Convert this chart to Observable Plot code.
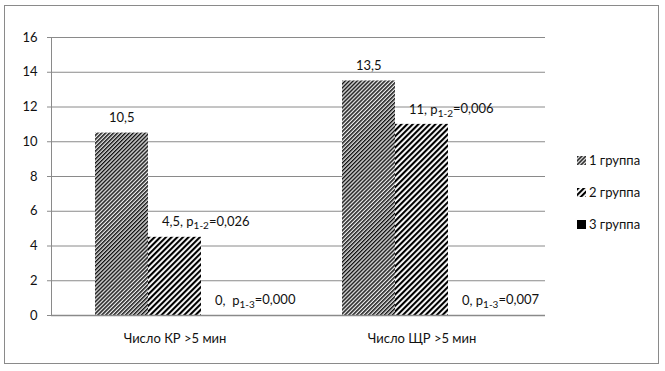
<!DOCTYPE html>
<html>
<head>
<meta charset="utf-8">
<script src="https://cdn.jsdelivr.net/npm/d3@7"></script>
<script src="https://cdn.jsdelivr.net/npm/@observablehq/plot@0.6"></script>
<style>
  html, body { margin: 0; padding: 0; background: #fff; }
  #wrap { position: relative; width: 665px; height: 371px; font-family: Lato, "Open Sans", sans-serif; }
  #border { position: absolute; left: 4px; top: 5px; width: 655px; height: 359px; border: 1px solid #8a8a8a; box-sizing: border-box; pointer-events: none; }
  #legend { position: absolute; left: 577px; top: 151px; font-size: 13px; color: #111; }
  #legend .row { display: flex; align-items: center; height: 18px; margin-bottom: 14px; }
  #legend svg { margin-right: 3px; }
</style>
</head>
<body>
<div id="wrap"><div id="border"></div><div id="legend"></div></div>
<script>
const categories = ["Число КР >5 мин", "Число ЩР >5 мин"];
const groups = ["1 группа", "2 группа", "3 группа"];
const values1 = [10.5, 13.5];
const values2 = [4.5, 11];
const values3 = [0, 0];
const labels1 = ["10,5", "13,5"];
const labels2 = ["4,5, p_{1-2}=0,026", "11, p_{1-2}=0,006"];
const labels3 = ["0,  p_{1-3}=0,000", "0, p_{1-3}=0,007"];
const yTicks = [0, 2, 4, 6, 8, 10, 12, 14, 16];
const fills = ["url(#p1)", "url(#p2)", "#000"];

const series = [values1, values2, values3];
const seriesLabels = [labels1, labels2, labels3];
const rows = [];
categories.forEach((c, i) => {
  groups.forEach((g, j) => {
    rows.push({cat: c, group: g, value: series[j][i], label: seriesLabels[j][i]});
  });
});

const chart = Plot.plot({
  width: 665,
  height: 371,
  marginLeft: 51,
  marginRight: 120,
  marginTop: 37,
  marginBottom: 56,
  style: {fontFamily: "Lato, 'Open Sans', sans-serif", fontSize: "13px", color: "#111", background: "transparent"},
  fx: {domain: categories, padding: 0, label: null, tickSize: 0, tickPadding: 18},
  x: {domain: groups, paddingInner: 0, paddingOuter: 0.8, axis: null},
  y: {domain: [0, 16], label: null},
  color: {type: "ordinal", domain: groups, range: fills},
  marks: [
    Plot.gridY(yTicks, {stroke: "#8a8a8a", strokeOpacity: 1, strokeWidth: 1}),
    Plot.frame({anchor: "left", facetAnchor: "left", stroke: "#8a8a8a"}),
    Plot.axisY(yTicks, {tickSize: 4, tickPadding: 10, stroke: "#8a8a8a", fill: "#111", fontSize: 13, label: null}),
    Plot.barY(rows, {fx: "cat", x: "group", y: "value", fill: "group"}),
    Plot.ruleY([0], {stroke: "#8a8a8a", strokeWidth: 1.5}),
    Plot.text(rows, {fx: "cat", x: "group", y: "value", text: "label", textAnchor: "start", dx: -13, dy: -15, fill: "#111", fontSize: 13})
  ]
});

const svg = d3.select(chart);
const defs = svg.insert("defs", ":first-child");
const p1 = defs.append("pattern").attr("id", "p1").attr("patternUnits", "userSpaceOnUse")
  .attr("width", 2.8).attr("height", 2.8).attr("patternTransform", "rotate(45)");
p1.append("rect").attr("width", 2.8).attr("height", 2.8).attr("fill", "#fff");
p1.append("rect").attr("width", 1.5).attr("height", 2.8).attr("fill", "#111");
p1.append("rect").attr("x", 1.5).attr("width", 0.5).attr("height", 2.8).attr("fill", "#777");
const p2 = defs.append("pattern").attr("id", "p2").attr("patternUnits", "userSpaceOnUse")
  .attr("width", 4).attr("height", 4).attr("patternTransform", "rotate(45)");
p2.append("rect").attr("width", 4).attr("height", 4).attr("fill", "#fff");
p2.append("rect").attr("width", 2.1).attr("height", 4).attr("fill", "#000");

// subscripts
svg.selectAll("text").each(function() {
  const t = this.textContent;
  if (!t.includes("_{")) return;
  const m = t.match(/^(.*?)_\{(.*?)\}(.*)$/);
  if (!m) return;
  const el = d3.select(this);
  el.text(null);
  el.append("tspan").text(m[1]);
  el.append("tspan").attr("font-size", 10).attr("dy", "0.3em").text(m[2]);
  el.append("tspan").attr("dy", "-0.3em").text(m[3]);
});

document.getElementById("wrap").prepend(chart);

const legend = d3.select("#legend");
groups.forEach((g, j) => {
  const row = legend.append("div").attr("class", "row");
  const s = row.append("svg").attr("width", 9).attr("height", 9);
  s.append("rect").attr("width", 9).attr("height", 9).attr("fill", fills[j]);
  row.append("span").text(g);
});
</script>
</body>
</html>
